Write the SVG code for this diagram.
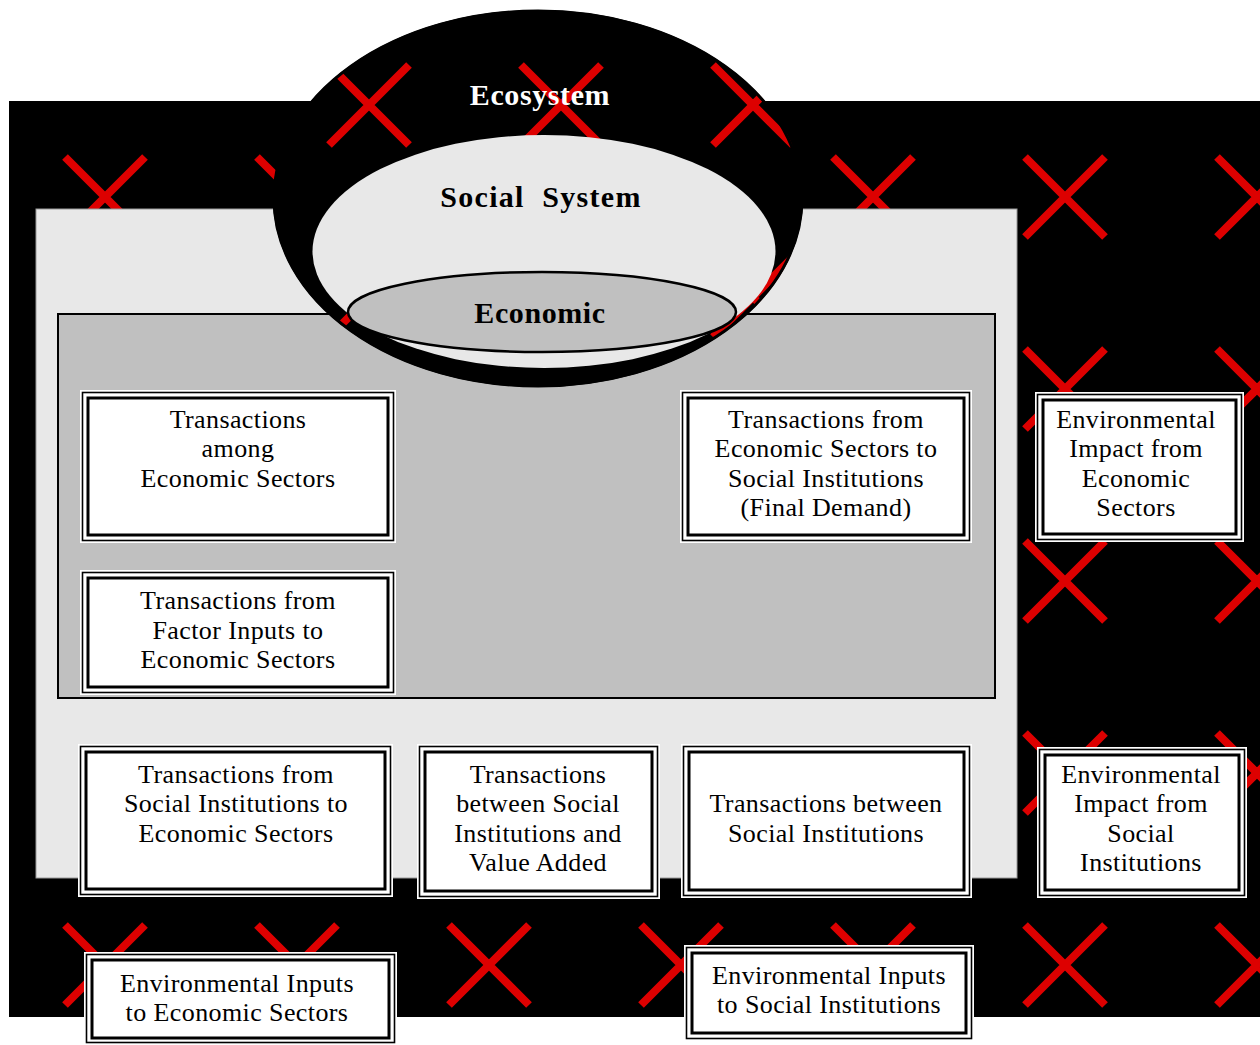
<svg xmlns="http://www.w3.org/2000/svg" xmlns:xlink="http://www.w3.org/1999/xlink" width="1260" height="1045" viewBox="0 0 1260 1045" font-family="'Liberation Serif', 'DejaVu Serif', serif">
<style>
.x{stroke:#dd0000;stroke-width:8;stroke-linecap:butt;fill:none}
text{font-family:'Liberation Serif','DejaVu Serif',serif}
.t{font-size:26px;fill:#000;text-anchor:middle;letter-spacing:0.4px}
.h{font-size:30px;font-weight:bold;text-anchor:middle;letter-spacing:0.6px}
.halo{fill:#fff}
.o{fill:#fff;stroke:#000;stroke-width:1.6}
.i{fill:none;stroke:#000;stroke-width:3}
</style>
<defs>
<g id="X"><path class="x" d="M-40,-40L40,40M40,-40L-40,40"/></g>
<clipPath id="ecoClip"><ellipse cx="538" cy="198.5" rx="265" ry="188.5"/></clipPath>
</defs>
<rect width="1260" height="1045" fill="#fff"/>
<g id="background">
<rect x="9" y="101" width="1251" height="916" fill="#000"/>
<g id="xgrid">
<use href="#X" x="105" y="197"/><use href="#X" x="297" y="197"/><use href="#X" x="489" y="197"/><use href="#X" x="681" y="197"/><use href="#X" x="873" y="197"/><use href="#X" x="1065" y="197"/><use href="#X" x="1257" y="197"/>
<use href="#X" x="105" y="389"/><use href="#X" x="297" y="389"/><use href="#X" x="489" y="389"/><use href="#X" x="681" y="389"/><use href="#X" x="873" y="389"/><use href="#X" x="1065" y="389"/><use href="#X" x="1257" y="389"/>
<use href="#X" x="105" y="581"/><use href="#X" x="297" y="581"/><use href="#X" x="489" y="581"/><use href="#X" x="681" y="581"/><use href="#X" x="873" y="581"/><use href="#X" x="1065" y="581"/><use href="#X" x="1257" y="581"/>
<use href="#X" x="105" y="773"/><use href="#X" x="297" y="773"/><use href="#X" x="489" y="773"/><use href="#X" x="681" y="773"/><use href="#X" x="873" y="773"/><use href="#X" x="1065" y="773"/><use href="#X" x="1257" y="773"/>
<use href="#X" x="105" y="965"/><use href="#X" x="297" y="965"/><use href="#X" x="489" y="965"/><use href="#X" x="681" y="965"/><use href="#X" x="873" y="965"/><use href="#X" x="1065" y="965"/><use href="#X" x="1257" y="965"/>
</g>
</g>
<g id="social-panel">
<rect x="36" y="209" width="981" height="669" fill="#e8e8e8" stroke="#9a9a9a" stroke-width="1"/>
</g>
<g id="economic-panel">
<rect x="58" y="314" width="937" height="384" fill="#c0c0c0" stroke="#000" stroke-width="2"/>
</g>
<g id="ecosystem">
<ellipse cx="538" cy="198.5" rx="265" ry="188.5" fill="#000"/>
<g clip-path="url(#ecoClip)">
<use href="#X" x="369" y="105"/><use href="#X" x="561" y="105"/><use href="#X" x="753" y="105"/>
<use href="#X" x="369" y="297"/><use href="#X" x="561" y="297"/><use href="#X" x="753" y="297"/>
</g>
<ellipse cx="538" cy="198.5" rx="264" ry="187.5" fill="none" stroke="#000" stroke-width="3"/>
<text class="h" x="540" y="105" fill="#fff">Ecosystem</text>
</g>
<g id="social-system">
<ellipse cx="544" cy="251.5" rx="231.5" ry="116.5" fill="#e8e8e8"/>
<text class="h" x="541" y="207" xml:space="preserve" style="letter-spacing:1.3px">Social  System</text>
</g>
<g id="economic">
<ellipse cx="542" cy="312" rx="194" ry="40" fill="#c0c0c0" stroke="#000" stroke-width="2.5"/>
<text class="h" x="540" y="323">Economic</text>
</g>
<g id="box-among">
<rect class="halo" x="80" y="390" width="316" height="153"/>
<rect class="o" x="82.5" y="392.5" width="311" height="148"/>
<rect class="i" x="88" y="398" width="300" height="137"/>
<text class="t" x="238" y="428">Transactions</text><text class="t" x="238" y="457">among</text><text class="t" x="238" y="487">Economic Sectors</text>
</g>
<g id="box-factor">
<rect class="halo" x="80" y="570" width="316" height="125"/>
<rect class="o" x="82.5" y="572.5" width="311" height="120"/>
<rect class="i" x="88" y="578" width="300" height="109"/>
<text class="t" x="238" y="609">Transactions from</text><text class="t" x="238" y="639">Factor Inputs to</text><text class="t" x="238" y="668">Economic Sectors</text>
</g>
<g id="box-final-demand">
<rect class="halo" x="680" y="390" width="292" height="153"/>
<rect class="o" x="682.5" y="392.5" width="287" height="148"/>
<rect class="i" x="688" y="398" width="276" height="137"/>
<text class="t" x="826" y="428">Transactions from</text><text class="t" x="826" y="457">Economic Sectors to</text><text class="t" x="826" y="487">Social Institutions</text><text class="t" x="826" y="516">(Final Demand)</text>
</g>
<g id="box-env-impact-econ">
<rect class="halo" x="1035" y="392" width="209" height="150"/>
<rect class="o" x="1037.5" y="394.5" width="204" height="145"/>
<rect class="i" x="1043" y="400" width="193" height="134"/>
<text class="t" x="1136" y="428">Environmental</text><text class="t" x="1136" y="457">Impact from</text><text class="t" x="1136" y="487">Economic</text><text class="t" x="1136" y="516">Sectors</text>
</g>
<g id="box-social-to-econ">
<rect class="halo" x="78" y="744" width="315" height="153"/>
<rect class="o" x="80.5" y="746.5" width="310" height="148"/>
<rect class="i" x="86" y="752" width="299" height="137"/>
<text class="t" x="236" y="783">Transactions from</text><text class="t" x="236" y="812">Social Institutions to</text><text class="t" x="236" y="842">Economic Sectors</text>
</g>
<g id="box-value-added">
<rect class="halo" x="417" y="744" width="243" height="155"/>
<rect class="o" x="419.5" y="746.5" width="238" height="150"/>
<rect class="i" x="425" y="752" width="227" height="139"/>
<text class="t" x="538" y="783">Transactions</text><text class="t" x="538" y="812">between Social</text><text class="t" x="538" y="842">Institutions and</text><text class="t" x="538" y="871">Value Added</text>
</g>
<g id="box-between-social">
<rect class="halo" x="681" y="744" width="291" height="154"/>
<rect class="o" x="683.5" y="746.5" width="286" height="149"/>
<rect class="i" x="689" y="752" width="275" height="138"/>
<text class="t" x="826" y="812">Transactions between</text><text class="t" x="826" y="842">Social Institutions</text>
</g>
<g id="box-env-impact-social">
<rect class="halo" x="1037" y="747" width="210" height="151"/>
<rect class="o" x="1039.5" y="749.5" width="205" height="146"/>
<rect class="i" x="1045" y="755" width="194" height="135"/>
<text class="t" x="1141" y="783">Environmental</text><text class="t" x="1141" y="812">Impact from</text><text class="t" x="1141" y="842">Social</text><text class="t" x="1141" y="871">Institutions</text>
</g>
<g id="box-env-inputs-econ">
<rect class="halo" x="84" y="952" width="313" height="96"/>
<rect class="o" x="86.5" y="954.5" width="308" height="88"/>
<rect class="i" x="92" y="960" width="297" height="78"/>
<text class="t" x="237" y="992">Environmental Inputs</text><text class="t" x="237" y="1021">to Economic Sectors</text>
</g>
<g id="box-env-inputs-social">
<rect class="halo" x="684" y="945" width="290" height="96"/>
<rect class="o" x="686.5" y="947.5" width="285" height="91"/>
<rect class="i" x="692" y="953" width="274" height="80"/>
<text class="t" x="829" y="984">Environmental Inputs</text><text class="t" x="829" y="1013">to Social Institutions</text>
</g>
<g id="connectors"/>
</svg>
